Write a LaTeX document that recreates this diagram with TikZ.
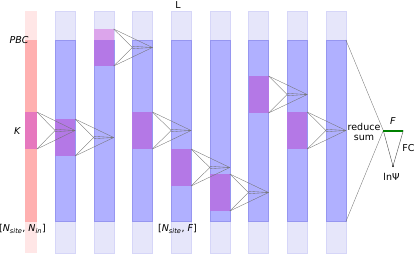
\documentclass[tikz,border=0pt]{standalone}
\usepackage{fontspec}
\setmainfont{DejaVu Sans}
\definecolor{paleblue}{RGB}{230,230,250}
\definecolor{midblue}{RGB}{176,176,255}
\definecolor{edgeblue}{RGB}{150,150,240}
\definecolor{kpurple}{RGB}{180,120,230}
\definecolor{lpurple}{RGB}{220,165,235}
\definecolor{palepink}{RGB}{255,230,230}
\definecolor{pinkfill}{RGB}{255,176,176}
\definecolor{kmag}{RGB}{230,120,190}
\definecolor{fcgreen}{RGB}{0,128,0}
\tikzset{
  lbl/.style={font=\fontsize{9.5}{10.5}\selectfont, inner sep=0pt},
  fanline/.style={draw=black!55, line width=0.35pt},
  paleb/.style={fill=paleblue, draw=paleblue!80!edgeblue, line width=0.3pt},
  solidb/.style={fill=midblue, draw=edgeblue, line width=0.4pt},
  kern/.style={fill=kpurple, draw=none},
}
\begin{document}
\begin{tikzpicture}[x=1pt,y=-1pt]
\useasboundingbox (0,0) rectangle (415,255);
% column 0 (input, pink)
\fill[palepink] (25,11) rectangle (37,253);
\fill[pinkfill] (25,40) rectangle (37,221.5);
\fill[kmag] (25,112) rectangle (37,149);
% columns 1..8
\foreach \i in {1,...,8}{
  \pgfmathsetmacro\xl{55+(\i-1)*38.7}
  \path[paleb] (\xl,11) rectangle ({\xl+20},253);
  \path[solidb] (\xl,40) rectangle ({\xl+20},221.5);
}
% kernels
\foreach \i/\t in {1/119,3/112,4/149,5/174,6/76,7/112}{
  \pgfmathsetmacro\xl{55+(\i-1)*38.7}
  \fill[kpurple] (\xl,\t) rectangle ({\xl+20},\t+37);
}
\fill[lpurple] (93.7,29) rectangle (113.7,40);
\fill[kpurple] (93.7,40) rectangle (113.7,66);
% fans
\foreach \r/\t/\nl in {37/112/55, 75/119/93.7, 113.7/29/132.4, 152.4/112/171.1, 191.1/149/209.8, 229.8/174/248.5, 268.5/76/287.2, 307.2/112/325.9}{
  \pgfmathsetmacro\m{\t+18.5}
  \coordinate (v) at (\nl,\m);
  \coordinate (g) at (\nl+20,\m);
  \coordinate (a) at (\r,\t);
  \coordinate (b) at (\r,\t+37);
  \draw[fanline] (a) -- (v) -- (b);
  \draw[fanline] (a) -- (g) -- (b);
  \draw[fanline] (\nl,\m-1.2) -- (g);
  \draw[fanline] (\nl,\m+1.2) -- (g);
}
% reduce sum and FC
\coordinate (c8t) at (345.9,40);
\coordinate (c8b) at (345.9,221.5);
\coordinate (fl) at (383.3,130.5);
\coordinate (fr) at (403.3,130.5);
\coordinate (psi) at (393,166);
\draw[fanline] (c8t) -- (fl) -- (c8b);
\draw[black!70, line width=0.4pt] (fl) -- (psi) -- (fr);
\draw[fcgreen, line width=2pt] (fl) -- (fr);
\fill (psi) circle (1pt);
% labels
\node[lbl] (L) at (178,5) {L};
\node[lbl] (pbc) at (19,40) {\textit{PBC}};
\node[lbl] (k) at (17.5,131) {\textit{K}};
\node[lbl] (in) at (22.5,229) {[\textit{N}\textsubscript{\textit{site}}, \textit{N}\textsubscript{\textit{in}}]};
\node[lbl] (mid) at (177.5,229) {[\textit{N}\textsubscript{\textit{site}}, \textit{F}]};
\node[lbl, align=center] (rs) at (364,132) {reduce\\sum};
\node[lbl] (f) at (393,121) {\textit{F}};
\node[lbl] (fc) at (408.5,148) {FC};
\node[lbl] (lnpsi) at (391.5,177) {lnΨ};
\end{tikzpicture}
\end{document}
